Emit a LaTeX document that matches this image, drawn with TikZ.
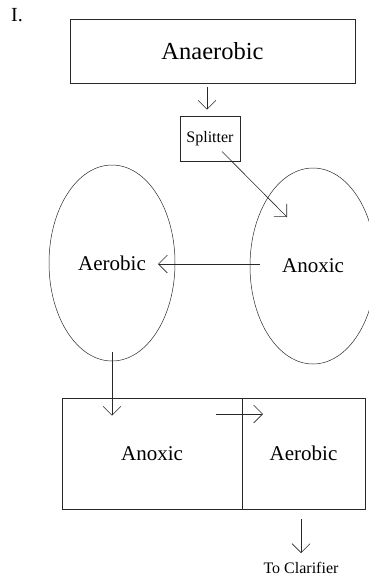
\documentclass[tikz,border=0pt]{standalone}
\usepackage{fontspec}
\setmainfont{Liberation Serif}
\usepackage{xcolor}
\definecolor{LineGray}{RGB}{40,40,40}
\usetikzlibrary{shapes.geometric, arrows.meta, positioning, calc}
\tikzset{
  % Plain tank box
  tankbox/.style={
    rectangle, draw=LineGray, line width=0.6pt,
    align=center, inner sep=0pt,
    font=\fontsize{21}{25}\selectfont
  },
  % Oval tank
  tankoval/.style={
    ellipse, draw=LineGray, line width=0.5pt,
    minimum width=126pt, minimum height=196pt,
    inner sep=0pt, font=\fontsize{21}{25}\selectfont
  },
  % Arrows
  arr/.style={-{Straight Barb[length=9pt,width=18pt]}, line width=0.6pt, LineGray},
  % Small label
  slabel/.style={font=\fontsize{16}{19}\selectfont, inner sep=2pt},
}
\begin{document}
\begin{tikzpicture}[x=1pt, y=1pt]
  \useasboundingbox (0,0) rectangle (369,-581);

  %% Title
  \node[font=\fontsize{20}{24}\selectfont, inner sep=0pt] (num) at (17,-15) {I.};

  %% Tanks
  \node[tankbox, minimum width=285pt, minimum height=64pt,
        font=\fontsize{24.5}{29}\selectfont] (ana) at (212.5,-51) {Anaerobic};
  \node[tankbox, slabel, minimum width=60pt, minimum height=45pt] (split) at (210,-138.5) {Splitter};
  \node[tankoval] (aer1) at (112,-263) {Aerobic};
  \node[tankoval] (anox1) at (313,-266) {Anoxic};
  \node[tankbox, minimum width=180pt, minimum height=111pt] (anox2) at (152,-453.5) {Anoxic};
  \node[tankbox, minimum width=123pt, minimum height=111pt] (aer2) at (303.5,-453.5) {Aerobic};
  \node[slabel] (clar) at (301,-568) {To Clarifier};

  %% Flow
  \draw[arr] ([shift={(-5.5,-4)}]ana.south) -- ([shift={(-3,6)}]split.north);
  \draw[arr] ([shift={(12,-13)}]split.center) -- ([shift={(-26,49)}]anox1.center);
  \draw[arr] ([shift={(-53,2)}]anox1.center) -- ([shift={(46,-1)}]aer1.center);
  \draw[arr] ([shift={(0,-89)}]aer1.center) -- ([shift={(-40,-18)}]anox2.north);
  \draw[arr] ([shift={(64,39.5)}]anox2.center) -- ([shift={(-40.5,39.5)}]aer2.center);
  \draw[arr] ([shift={(-2.5,-10)}]aer2.south) -- ([yshift=7]clar.north);

\end{tikzpicture}
\end{document}
